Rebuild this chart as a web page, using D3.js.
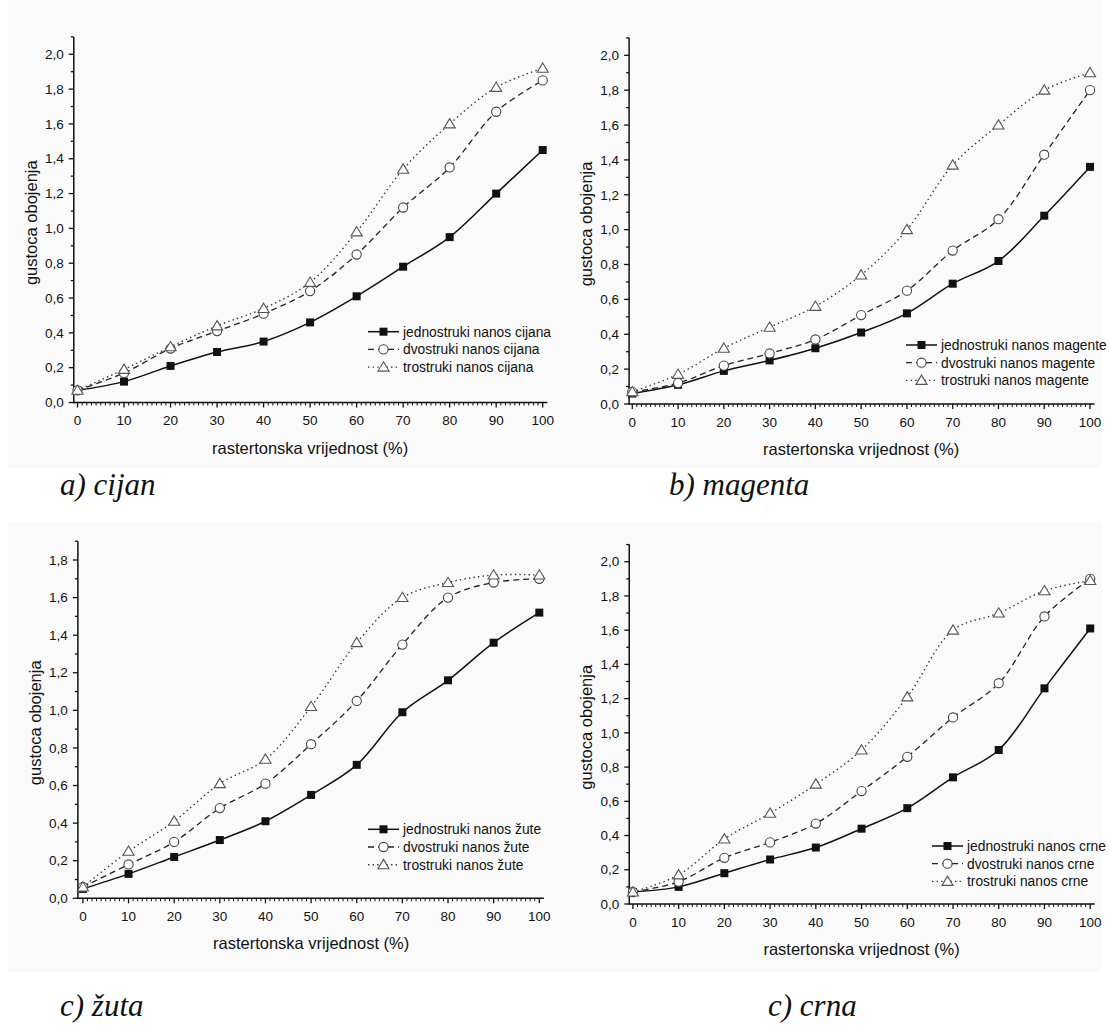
<!DOCTYPE html>
<html>
<head>
<meta charset="utf-8">
<script src="https://cdn.jsdelivr.net/npm/d3@7"></script>
<style>
  html, body { margin: 0; padding: 0; background: #ffffff; }
  svg { display: block; }
</style>
</head>
<body>
<svg id="chart" width="1110" height="1025"></svg>
<script>
// Raster tone values (%) measured on every print
const rasterValues = [0, 10, 20, 30, 40, 50, 60, 70, 80, 90, 100];

// Optical density – cyan
const cijanSingle = [0.07, 0.12, 0.21, 0.29, 0.35, 0.46, 0.61, 0.78, 0.95, 1.20, 1.45];
const cijanDouble = [0.07, 0.17, 0.31, 0.41, 0.51, 0.64, 0.85, 1.12, 1.35, 1.67, 1.85];
const cijanTriple = [0.07, 0.19, 0.32, 0.44, 0.54, 0.69, 0.98, 1.34, 1.60, 1.81, 1.92];

// Optical density – magenta
const magentaSingle = [0.06, 0.11, 0.19, 0.25, 0.32, 0.41, 0.52, 0.69, 0.82, 1.08, 1.36];
const magentaDouble = [0.07, 0.12, 0.22, 0.29, 0.37, 0.51, 0.65, 0.88, 1.06, 1.43, 1.80];
const magentaTriple = [0.07, 0.17, 0.32, 0.44, 0.56, 0.74, 1.00, 1.37, 1.60, 1.80, 1.90];

// Optical density – yellow
const zutaSingle = [0.05, 0.13, 0.22, 0.31, 0.41, 0.55, 0.71, 0.99, 1.16, 1.36, 1.52];
const zutaDouble = [0.06, 0.18, 0.30, 0.48, 0.61, 0.82, 1.05, 1.35, 1.60, 1.68, 1.70];
const zutaTriple = [0.06, 0.25, 0.41, 0.61, 0.74, 1.02, 1.36, 1.60, 1.68, 1.72, 1.72];

// Optical density – black
const crnaSingle = [0.07, 0.10, 0.18, 0.26, 0.33, 0.44, 0.56, 0.74, 0.90, 1.26, 1.61];
const crnaDouble = [0.07, 0.13, 0.27, 0.36, 0.47, 0.66, 0.86, 1.09, 1.29, 1.68, 1.90];
const crnaTriple = [0.07, 0.17, 0.38, 0.53, 0.70, 0.90, 1.21, 1.60, 1.70, 1.83, 1.89];

// Tick labels
const xTickLabels = ["0", "10", "20", "30", "40", "50", "60", "70", "80", "90", "100"];
const yTickLabels20 = ["0,0", "0,2", "0,4", "0,6", "0,8", "1,0", "1,2", "1,4", "1,6", "1,8", "2,0"];
const yTickLabels18 = ["0,0", "0,2", "0,4", "0,6", "0,8", "1,0", "1,2", "1,4", "1,6", "1,8"];

// Legend entries
const legendCijan = ["jednostruki nanos cijana", "dvostruki nanos cijana", "trostruki nanos cijana"];
const legendMagenta = ["jednostruki nanos magente", "dvostruki nanos magente", "trostruki nanos magente"];
const legendZuta = ["jednostruki nanos žute", "dvostruki nanos žute", "trostruki nanos žute"];
const legendCrna = ["jednostruki nanos crne", "dvostruki nanos crne", "trostruki nanos crne"];

const captions = ["a) cijan", "b) magenta", "c) žuta", "c) crna"];
const xTitle = "rastertonska vrijednost (%)";
const yTitle = "gustoca obojenja";

// Panel geometry (pixel placement of each plot)
const panels = [
  { series: [cijanSingle, cijanDouble, cijanTriple], legend: legendCijan, yLabels: yTickLabels20, caption: captions[0],
    x0: 77.5, x100: 542.7, xStart: -0.8, xEnd: 101, yBase: 402.5, yTopRef: 54.3, yRefVal: 2.0, yMax: 2.1,
    legX: 368, legY: 331.7, capX: 60, capY: 495 },
  { series: [magentaSingle, magentaDouble, magentaTriple], legend: legendMagenta, yLabels: yTickLabels20, caption: captions[1],
    x0: 632.3, x100: 1090, xStart: -0.7, xEnd: 101, yBase: 404, yTopRef: 55.3, yRefVal: 2.0, yMax: 2.1,
    legX: 906, legY: 345, capX: 669, capY: 495 },
  { series: [zutaSingle, zutaDouble, zutaTriple], legend: legendZuta, yLabels: yTickLabels18, caption: captions[2],
    x0: 82.9, x100: 539.3, xStart: -1.1, xEnd: 101, yBase: 898.3, yTopRef: 560, yRefVal: 1.8, yMax: 1.9,
    legX: 368, legY: 829.3, capX: 60, capY: 1016 },
  { series: [crnaSingle, crnaDouble, crnaTriple], legend: legendCrna, yLabels: yTickLabels20, caption: captions[3],
    x0: 632.9, x100: 1090.2, xStart: -0.8, xEnd: 101, yBase: 904, yTopRef: 561.7, yRefVal: 2.0, yMax: 2.1,
    legX: 932, legY: 846, capX: 768, capY: 1016 }
];

// Line and marker styles for single / double / triple application
const styles = [
  { stroke: "#111", width: 1.5, dash: null, marker: "square" },
  { stroke: "#222", width: 1.3, dash: "6,4", marker: "circle" },
  { stroke: "#333", width: 1.4, dash: "1.4,3.2", marker: "triangle" }
];

const svg = d3.select("#chart");
const font = "'Liberation Sans', Arial, sans-serif";

// light backdrop of the plot areas
svg.append("rect").attr("x", 8).attr("y", 0).attr("width", 1094).attr("height", 468).attr("fill", "#fafafa");
svg.append("rect").attr("x", 8).attr("y", 523).attr("width", 1094).attr("height", 449).attr("fill", "#fafafa");

function drawMarker(g, type, cx, cy) {
  if (type === "square") {
    g.append("rect").attr("x", cx - 4).attr("y", cy - 4).attr("width", 8).attr("height", 8)
      .attr("fill", "#111");
  } else if (type === "circle") {
    g.append("circle").attr("cx", cx).attr("cy", cy).attr("r", 4.6)
      .attr("fill", "#fff").attr("stroke", "#444").attr("stroke-width", 1.1);
  } else {
    const s = 5.3;
    g.append("path")
      .attr("d", `M${cx},${cy - s}L${cx + s * 1.05},${cy + s * 0.75}L${cx - s * 1.05},${cy + s * 0.75}Z`)
      .attr("fill", "#fff").attr("stroke", "#555").attr("stroke-width", 1.1);
  }
}

panels.forEach(p => {
  const x = d3.scaleLinear().domain([0, 100]).range([p.x0, p.x100]);
  const y = d3.scaleLinear().domain([0, p.yRefVal]).range([p.yBase, p.yTopRef]);
  const g = svg.append("g");

  const axisLeft = x(p.xStart);
  const axisRight = x(p.xEnd);
  const axisTop = y(p.yMax);

  // x axis: minor ticks every 1 %, major every 10 %
  const xAxis = g.append("g");
  xAxis.append("line").attr("x1", axisLeft).attr("x2", axisRight).attr("y1", y(0)).attr("y2", y(0))
    .attr("stroke", "#111").attr("stroke-width", 1.5);
  d3.range(0, 101, 1).forEach(v => {
    const major = v % 10 === 0;
    xAxis.append("line").attr("x1", x(v)).attr("x2", x(v)).attr("y1", y(0)).attr("y2", y(0) + (major ? 5 : 3))
      .attr("stroke", "#111").attr("stroke-width", major ? 1.3 : 1);
  });
  rasterValues.forEach((v, i) => {
    xAxis.append("text").attr("x", x(v)).attr("y", y(0) + 22.5).attr("text-anchor", "middle")
      .attr("font-family", font).attr("font-size", 13.5).attr("fill", "#111").text(xTickLabels[i]);
  });

  // y axis: major every 0.2, minor every 0.1
  const yAxis = g.append("g");
  yAxis.append("line").attr("x1", axisLeft).attr("x2", axisLeft).attr("y1", y(0) + 0.75).attr("y2", axisTop)
    .attr("stroke", "#111").attr("stroke-width", 1.5);
  d3.range(0, Math.round(p.yMax * 10) + 1).forEach(k => {
    const major = k % 2 === 0;
    yAxis.append("line").attr("x1", axisLeft).attr("x2", axisLeft - (major ? 5 : 3))
      .attr("y1", y(k / 10)).attr("y2", y(k / 10))
      .attr("stroke", "#111").attr("stroke-width", 1.3);
  });
  p.yLabels.forEach((lab, i) => {
    yAxis.append("text").attr("x", axisLeft - 10).attr("y", y(i * 0.2)).attr("dy", "0.35em")
      .attr("text-anchor", "end").attr("font-family", font).attr("font-size", 13.5).attr("fill", "#111").text(lab);
  });

  // axis titles
  g.append("text").attr("x", (p.x0 + p.x100) / 2).attr("y", y(0) + 51)
    .attr("text-anchor", "middle").attr("font-family", font).attr("font-size", 16.5).attr("fill", "#111").text(xTitle);
  const ty = (y(0) + axisTop) / 2 + 3;
  g.append("text").attr("transform", `translate(${axisLeft - 43},${ty}) rotate(-90)`)
    .attr("dy", "0.35em").attr("text-anchor", "middle").attr("font-family", font).attr("font-size", 16.5)
    .attr("fill", "#111").text(yTitle);

  // curves
  const line = d3.line().x((d, i) => x(rasterValues[i])).y(d => y(d)).curve(d3.curveCatmullRom.alpha(0.5));
  p.series.forEach((vals, si) => {
    const st = styles[si];
    g.append("path").attr("d", line(vals)).attr("fill", "none").attr("stroke", st.stroke)
      .attr("stroke-width", st.width).attr("stroke-dasharray", st.dash);
  });
  p.series.forEach((vals, si) => {
    const mg = g.append("g");
    vals.forEach((v, i) => drawMarker(mg, styles[si].marker, x(rasterValues[i]), y(v)));
  });

  // legend
  p.legend.forEach((lab, i) => {
    const st = styles[i];
    const ly = p.legY + i * 17.7;
    const lg = g.append("g");
    lg.append("line").attr("x1", p.legX).attr("x2", p.legX + 31).attr("y1", ly).attr("y2", ly)
      .attr("stroke", st.stroke).attr("stroke-width", st.width).attr("stroke-dasharray", st.dash);
    drawMarker(lg, st.marker, p.legX + 15.5, ly);
    lg.append("text").attr("x", p.legX + 35).attr("y", ly).attr("dy", "0.36em")
      .attr("font-family", font).attr("font-size", 13.8).attr("fill", "#111").text(lab);
  });

  // panel caption
  svg.append("text").attr("x", p.capX).attr("y", p.capY)
    .attr("font-family", "'Liberation Serif', 'Times New Roman', serif").attr("font-style", "italic")
    .attr("font-size", 31).attr("fill", "#111").text(p.caption);
});
</script>
</body>
</html>
